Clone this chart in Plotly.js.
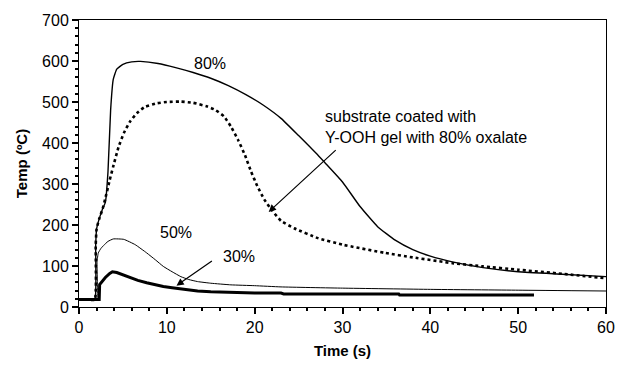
<!DOCTYPE html>
<html>
<head>
<meta charset="utf-8">
<script src="https://cdn.plot.ly/plotly-3.0.1.min.js"></script>
<style>html,body{margin:0;padding:0;background:#fff;}#chart{width:618px;height:371px;}</style>
</head>
<body>
<div id="chart"></div>
<script>
// 80% (solid thin)
const t80 = [0, 1, 1.8, 1.9, 2.0, 2.3, 2.7, 3.0, 3.3, 3.6, 3.9, 4.3, 5, 6, 7, 9, 11, 13, 15, 17, 19, 21, 23, 25, 27, 28, 30, 32, 34, 36, 38, 40, 42.5, 46, 50, 55, 60];
const T80 = [18, 18, 18, 150, 190, 215, 240, 255, 330, 480, 555, 580, 592, 598, 599, 594, 584, 572, 558, 540, 518, 492, 460, 418, 375, 352, 305, 245, 196, 163, 140, 124, 110, 96, 86, 80, 74];
// substrate coated with Y-OOH gel with 80% oxalate (dotted)
const tGel = [0, 1, 1.8, 1.9, 2.0, 2.3, 2.7, 3.0, 3.5, 3.9, 4.5, 5.1, 5.8, 6.6, 7.5, 8.9, 10, 11.6, 13, 14.6, 15.5, 16.5, 17.3, 18.1, 18.9, 19.6, 20.3, 21.1, 22, 23, 24.5, 27.2, 30, 34.8, 38, 42.5, 46, 50, 55, 60];
const TGel = [18, 18, 18, 150, 190, 215, 240, 265, 310, 343, 390, 424, 452, 473, 488, 497, 500, 501, 498, 489, 481, 465, 440, 408, 370, 330, 295, 262, 235, 210, 192, 168, 152, 132, 121, 107, 99, 91, 81, 70];
// 50% (thin)
const t50 = [0, 1, 2.0, 2.05, 2.2, 2.5, 2.8, 3.3, 3.9, 5.1, 6.4, 7.7, 8.7, 9.6, 10.6, 11.6, 12.5, 13.5, 15, 17.3, 20, 23, 30, 40, 50, 60];
const T50 = [18, 18, 18, 110, 132, 143, 150, 160, 166, 165, 152, 132, 115, 99, 86, 74, 67, 62, 58, 54, 52, 49, 46, 43, 41, 39];
// 30% (thick)
const t30 = [0, 1, 2.3, 2.35, 2.6, 3.0, 3.5, 3.8, 4.3, 5, 5.8, 6.7, 7.7, 8.7, 9.6, 10.6, 11.6, 12.5, 13.5, 15, 17.3, 20, 23, 23.3, 30, 36.4, 36.5, 45, 51.8];
const T30 = [18, 18, 18, 55, 62, 72, 82, 86, 84, 78, 71, 65, 59, 54, 50, 47, 44, 41, 39, 37, 35, 34, 34, 32, 32, 32, 29, 29, 29];

const xTicks = [0, 10, 20, 30, 40, 50, 60];
const yTicks = [0, 100, 200, 300, 400, 500, 600, 700];

const ff = '"Liberation Sans", Arial, sans-serif';
const font = {family: ff, size: 16, color: '#000'};

const traces = [
  {x: t80, y: T80, type: 'scatter', mode: 'lines', line: {color: '#000', width: 1.4, shape: 'spline', smoothing: 0.4}},
  {x: tGel, y: TGel, type: 'scatter', mode: 'lines', line: {color: '#000', width: 2.6, dash: 'dot', shape: 'spline', smoothing: 0.4}},
  {x: t50, y: T50, type: 'scatter', mode: 'lines', line: {color: '#000', width: 1, shape: 'spline', smoothing: 0.4}},
  {x: t30, y: T30, type: 'scatter', mode: 'lines', line: {color: '#000', width: 3}}
];

const layout = {
  width: 618, height: 371,
  margin: {l: 79, r: 12, t: 20, b: 64},
  showlegend: false,
  font: font,
  xaxis: {range: [0, 60], tickvals: xTicks, ticks: 'outside', ticklen: 6, tickwidth: 2, tickcolor: '#000',
          minor: {dtick: 2, ticks: 'outside', ticklen: 3, tickwidth: 2, tickcolor: '#000'},
          showline: true, mirror: true, linecolor: '#000', showgrid: false, zeroline: false, tickfont: font,
          title: {text: '<b>Time (s)</b>', font: {family: ff, size: 15, color: '#000'}, standoff: 10}},
  yaxis: {range: [0, 700], tickvals: yTicks, ticks: 'outside', ticklen: 6, tickwidth: 2, tickcolor: '#000',
          minor: {dtick: 20, ticks: 'outside', ticklen: 3, tickwidth: 2, tickcolor: '#000'},
          showline: true, mirror: true, linecolor: '#000', showgrid: false, zeroline: false, tickfont: font,
          title: {text: '<b>Temp (ºC)</b>', font: {family: ff, size: 15, color: '#000'}, standoff: 10}},
  annotations: [
    {x: 14.9, y: 593, text: '80%', showarrow: false, xanchor: 'center', yanchor: 'middle', font: font},
    {x: 11.1, y: 182, text: '50%', showarrow: false, xanchor: 'center', yanchor: 'middle', font: font},
    {x: 18.2, y: 122, text: '30%', showarrow: false, xanchor: 'center', yanchor: 'middle', font: font},
    {x: 27.8, y: 439, text: 'substrate coated with<br>Y-OOH gel with 80% oxalate', showarrow: false, xanchor: 'left', yanchor: 'middle', align: 'left', font: font},
    {x: 11.1, y: 52, ax: 15.3, ay: 115, axref: 'x', ayref: 'y', xref: 'x', yref: 'y', text: '', showarrow: true, arrowhead: 2, arrowsize: 1.2, arrowwidth: 1.2, arrowcolor: '#000'},
    {x: 21.6, y: 232, ax: 29.4, ay: 386, axref: 'x', ayref: 'y', xref: 'x', yref: 'y', text: '', showarrow: true, arrowhead: 2, arrowsize: 1.2, arrowwidth: 1.2, arrowcolor: '#000'}
  ]
};

Plotly.newPlot('chart', traces, layout, {staticPlot: true});
</script>
</body>
</html>
